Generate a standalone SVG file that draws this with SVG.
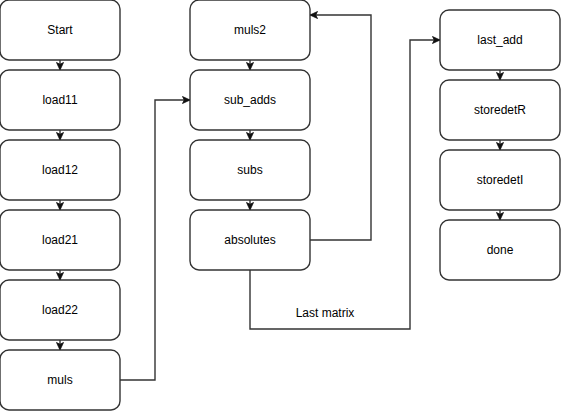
<svg xmlns="http://www.w3.org/2000/svg" width="561" height="411" viewBox="0 0 561 411">
  <defs>
    <style>
      .box { fill: #ffffff; stroke: #333333; stroke-width: 1.4; }
      .lbl { font-family: "Liberation Sans", Arial, sans-serif; font-size: 12px; fill: #000000; text-anchor: middle; dominant-baseline: central; }
      .edge { fill: none; stroke: #333333; stroke-width: 1.4; marker-end: url(#arrow); }
    </style>
    <marker id="arrow" markerWidth="9" markerHeight="9" viewBox="0 0 9 9" refX="8" refY="4.5" orient="auto" markerUnits="userSpaceOnUse">
      <path d="M0.5,1 L8,4.5 L0.5,8 L2.3,4.5 Z" fill="#111111" stroke="#111111" stroke-width="0.8" stroke-linejoin="miter"/>
    </marker>
  </defs>
  <rect width="561" height="411" fill="#ffffff"/>

  <!-- connectors -->
  <g id="connectors">
    <path class="edge" d="M60,60 V70"/>
    <path class="edge" d="M60,130 V140"/>
    <path class="edge" d="M60,200 V210"/>
    <path class="edge" d="M60,270 V280"/>
    <path class="edge" d="M60,340 V350"/>
    <path class="edge" d="M120,380 H155 V100 H190"/>
    <path class="edge" d="M250,60 V70"/>
    <path class="edge" d="M250,130 V140"/>
    <path class="edge" d="M250,200 V210"/>
    <path class="edge" d="M310,240 H371 V15 H310"/>
    <path class="edge" d="M250,270 V329 H410 V40 H440"/>
    <path class="edge" d="M500,70 V80"/>
    <path class="edge" d="M500,140 V150"/>
    <path class="edge" d="M500,210 V220"/>
    <text class="lbl" x="325" y="313">Last matrix</text>
  </g>

  <!-- first column -->
  <g id="start"><rect class="box" x="0" y="0" width="120" height="60" rx="9"/><text class="lbl" x="60" y="30">Start</text></g>
  <g id="load11"><rect class="box" x="0" y="70" width="120" height="60" rx="9"/><text class="lbl" x="60" y="100">load11</text></g>
  <g id="load12"><rect class="box" x="0" y="140" width="120" height="60" rx="9"/><text class="lbl" x="60" y="170">load12</text></g>
  <g id="load21"><rect class="box" x="0" y="210" width="120" height="60" rx="9"/><text class="lbl" x="60" y="240">load21</text></g>
  <g id="load22"><rect class="box" x="0" y="280" width="120" height="60" rx="9"/><text class="lbl" x="60" y="310">load22</text></g>
  <g id="muls"><rect class="box" x="0" y="350" width="120" height="60" rx="9"/><text class="lbl" x="60" y="380">muls</text></g>

  <!-- second column -->
  <g id="muls2"><rect class="box" x="190" y="0" width="120" height="60" rx="9"/><text class="lbl" x="250" y="30">muls2</text></g>
  <g id="sub_adds"><rect class="box" x="190" y="70" width="120" height="60" rx="9"/><text class="lbl" x="250" y="100">sub_adds</text></g>
  <g id="subs"><rect class="box" x="190" y="140" width="120" height="60" rx="9"/><text class="lbl" x="250" y="170">subs</text></g>
  <g id="absolutes"><rect class="box" x="190" y="210" width="120" height="60" rx="9"/><text class="lbl" x="250" y="240">absolutes</text></g>

  <!-- third column -->
  <g id="last_add"><rect class="box" x="440" y="10" width="120" height="60" rx="9"/><text class="lbl" x="500" y="40">last_add</text></g>
  <g id="storedetR"><rect class="box" x="440" y="80" width="120" height="60" rx="9"/><text class="lbl" x="500" y="110">storedetR</text></g>
  <g id="storedetI"><rect class="box" x="440" y="150" width="120" height="60" rx="9"/><text class="lbl" x="500" y="180">storedetI</text></g>
  <g id="done"><rect class="box" x="440" y="220" width="120" height="60" rx="9"/><text class="lbl" x="500" y="250">done</text></g>
</svg>
